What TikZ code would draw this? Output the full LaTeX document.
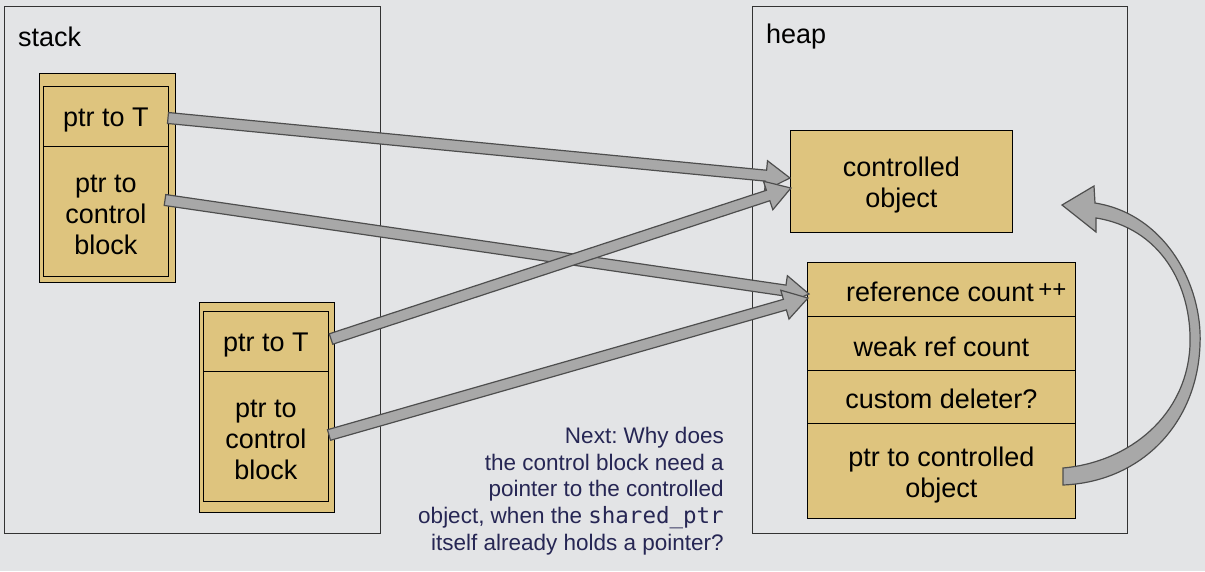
\documentclass[tikz,border=0pt]{standalone}
\usepackage{fontspec}
\setmainfont{Liberation Sans}
\newfontfamily\codefont{DejaVu Sans Mono}
\usetikzlibrary{calc}
\frenchspacing
\definecolor{bg}{RGB}{227,228,230}
\definecolor{tanbox}{RGB}{222,196,126}
\definecolor{arrfill}{RGB}{168,168,168}
\definecolor{arrline}{RGB}{78,78,78}
\definecolor{navy}{RGB}{38,38,84}
\newcommand\fatarrow[2]{%
  \filldraw[fatarr] let \p1=(#1), \p2=(#2),
    \n1={atan2(\y2-\y1,\x2-\x1)},
    \n2={veclen(\x2-\x1,\y2-\y1)} in
    [shift={(\p1)}, rotate=\n1]
    (0pt,-5.5pt) -- (\n2-24pt,-5.5pt) -- (\n2-24pt,-15pt) -- (\n2,0pt)
    -- (\n2-24pt,15pt) -- (\n2-24pt,5.5pt) -- (0pt,5.5pt) -- cycle;}
\begin{document}
\begin{tikzpicture}[x=1pt,y=-1pt,
  box/.style 2 args={minimum width=#1, minimum height=#2, inner sep=0pt, anchor=north west},
  frame/.style={draw=black!80, line width=0.9pt},
  cell/.style={draw=black, line width=0.9pt, fill=tanbox},
  lbl/.style={font=\fontsize{27}{31}\selectfont, inner sep=0pt, align=center},
  fatarr/.style={fill=arrfill, draw=arrline, line width=1.2pt, line join=miter},
  note/.style={align=right, text=navy, inner sep=0pt, anchor=north east,
    font=\fontsize{22.5}{26.7}\selectfont}]
\useasboundingbox (0,0) rectangle (1205,571);
\fill[bg] (0,0) rectangle (1205,571);

% frames
\node[frame, box={376pt}{527pt}] (stack) at (4,6) {};
\node[frame, box={375pt}{527pt}] (heap) at (752,6) {};
\node[lbl, anchor=west] (stacklbl) at (18,37) {stack};
\node[lbl, anchor=west] (heaplbl) at (766,37) {heap};

% stack shared_ptr 1
\node[cell, box={136pt}{209pt}] (sp1) at (39,73) {};
\node[cell, box={125pt}{60pt}] (p1) at (43,86) {};
\node[cell, box={125pt}{130pt}] (c1) at (43,146) {};
\node[lbl] (p1t) at ([yshift=-4pt]p1.center) {ptr to T};
\node[lbl] (c1t) at ([yshift=-3pt]c1.center) {ptr to\\control\\block};

% stack shared_ptr 2
\node[cell, box={135pt}{210pt}] (sp2) at (199,302) {};
\node[cell, box={125pt}{60pt}] (p2) at (203,311) {};
\node[cell, box={125pt}{130pt}] (c2) at (203,371) {};
\node[lbl] (p2t) at ([yshift=-4pt]p2.center) {ptr to T};
\node[lbl] (c2t) at ([yshift=-3pt]c2.center) {ptr to\\control\\block};

% heap
\node[cell, box={222pt}{102pt}] (obj) at (790,130) {};
\node[lbl] (objt) at ([yshift=-4pt]obj.center) {controlled\\object};
\node[cell, box={268pt}{54pt}] (rc) at (807,262) {};
\node[lbl, anchor=west] (rct) at (846,292) {reference count\,\raisebox{4pt}{\fontsize{24}{24}\selectfont ++}};
\node[cell, box={268pt}{54pt}] (wrc) at (807,316) {};
\node[lbl] (wrct) at ([yshift=-3pt]wrc.center) {weak ref count};
\node[cell, box={268pt}{53pt}] (del) at (807,370) {};
\node[lbl] (delt) at ([yshift=-2pt]del.center) {custom deleter?};
\node[cell, box={268pt}{95pt}] (pco) at (807,423) {};
\node[lbl] (pcot) at ([yshift=-4pt]pco.center) {ptr to controlled\\object};

% note
\node[note] (nexttext) at (724,427) {Next: Why does\\the control block need a\\pointer to the controlled\\object, when the {\codefont shared\_ptr}\\itself already holds a pointer?};

% arrow end points
\coordinate (a1s) at (168,118);
\coordinate (a1e) at (790,178);
\coordinate (a2s) at (165,200);
\coordinate (a2e) at (809,294);
\coordinate (a3s) at (331,339);
\coordinate (a3e) at (791,188);
\coordinate (a4s) at (329,435);
\coordinate (a4e) at (808,298);

\fatarrow{a1s}{a1e}
\fatarrow{a2s}{a2e}
\fatarrow{a3s}{a3e}
\fatarrow{a4s}{a4e}

% curved arrow from ptr to controlled object back to controlled object
\coordinate (ctail) at (1063,476);
\filldraw[fatarr] (1063,468) .. controls (1130,462) and (1187,415) .. (1190,345)
  .. controls (1192,285) and (1160,228) .. (1096,218)
  -- (1096,232) -- (1062,205) -- (1094,186) -- (1095,203)
  .. controls (1165,214) and (1203,285) .. (1200,345)
  .. controls (1197,425) and (1140,482) .. (1063,485) -- cycle;
\end{tikzpicture}
\end{document}
